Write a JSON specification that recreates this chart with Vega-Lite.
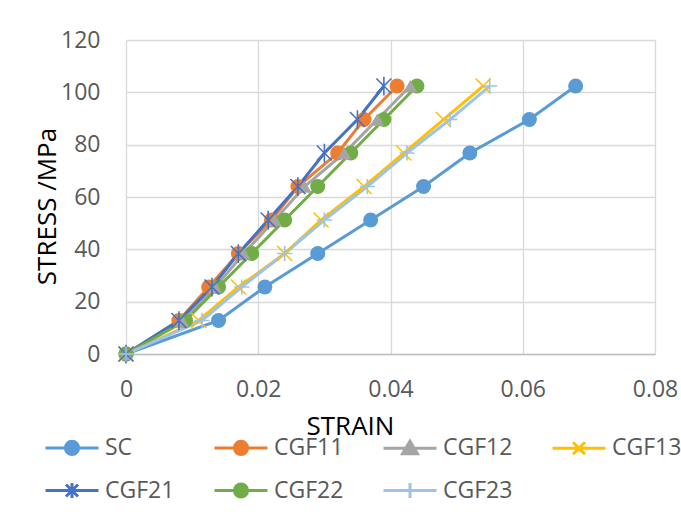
{
  "$schema": "https://vega.github.io/schema/vega-lite/v6.json",
  "width": 529,
  "height": 314,
  "autosize": {"type": "none"},
  "padding": {"left": 126, "top": 40, "right": 26, "bottom": 165},
  "background": "white",
  "config": {
    "font": "Open Sans",
    "view": {"stroke": null},
    "axis": {
      "labelFont": "Open Sans",
      "labelFontSize": 23,
      "labelColor": "#595959",
      "titleFont": "Open Sans",
      "titleFontSize": 26,
      "titleFontWeight": "normal",
      "titleColor": "#000000",
      "gridColor": "#d9d9d9",
      "gridWidth": 1.3,
      "ticks": false,
      "tickSize": 0
    },
    "legend": {
      "labelFont": "Open Sans",
      "labelFontSize": 23,
      "labelColor": "#595959",
      "labelOffset": 18,
      "labelLimit": 200,
      "symbolSize": 1600,
      "symbolStrokeWidth": 3,
      "symbolOpacity": 1,
      "padding": 0
    }
  },
  "data": {
    "values": [
      {"series": "SC", "strain": 0, "stress": 0},
      {"series": "SC", "strain": 0.014, "stress": 12.8},
      {"series": "SC", "strain": 0.021, "stress": 25.6},
      {"series": "SC", "strain": 0.029, "stress": 38.4},
      {"series": "SC", "strain": 0.037, "stress": 51.2},
      {"series": "SC", "strain": 0.045, "stress": 64},
      {"series": "SC", "strain": 0.052, "stress": 76.8},
      {"series": "SC", "strain": 0.061, "stress": 89.6},
      {"series": "SC", "strain": 0.068, "stress": 102.4},
      {"series": "CGF11", "strain": 0, "stress": 0},
      {"series": "CGF11", "strain": 0.008, "stress": 12.8},
      {"series": "CGF11", "strain": 0.0125, "stress": 25.6},
      {"series": "CGF11", "strain": 0.017, "stress": 38.4},
      {"series": "CGF11", "strain": 0.022, "stress": 51.2},
      {"series": "CGF11", "strain": 0.026, "stress": 64},
      {"series": "CGF11", "strain": 0.032, "stress": 76.8},
      {"series": "CGF11", "strain": 0.036, "stress": 89.6},
      {"series": "CGF11", "strain": 0.041, "stress": 102.4},
      {"series": "CGF12", "strain": 0, "stress": 0},
      {"series": "CGF12", "strain": 0.0085, "stress": 12.8},
      {"series": "CGF12", "strain": 0.0135, "stress": 25.6},
      {"series": "CGF12", "strain": 0.0178, "stress": 38.4},
      {"series": "CGF12", "strain": 0.0225, "stress": 51.2},
      {"series": "CGF12", "strain": 0.027, "stress": 64},
      {"series": "CGF12", "strain": 0.033, "stress": 76.8},
      {"series": "CGF12", "strain": 0.038, "stress": 89.6},
      {"series": "CGF12", "strain": 0.043, "stress": 102.4},
      {"series": "CGF13", "strain": 0, "stress": 0},
      {"series": "CGF13", "strain": 0.011, "stress": 12.8},
      {"series": "CGF13", "strain": 0.017, "stress": 25.6},
      {"series": "CGF13", "strain": 0.024, "stress": 38.4},
      {"series": "CGF13", "strain": 0.0295, "stress": 51.2},
      {"series": "CGF13", "strain": 0.036, "stress": 64},
      {"series": "CGF13", "strain": 0.042, "stress": 76.8},
      {"series": "CGF13", "strain": 0.048, "stress": 89.6},
      {"series": "CGF13", "strain": 0.054, "stress": 102.4},
      {"series": "CGF21", "strain": 0, "stress": 0},
      {"series": "CGF21", "strain": 0.008, "stress": 12.8},
      {"series": "CGF21", "strain": 0.013, "stress": 25.6},
      {"series": "CGF21", "strain": 0.017, "stress": 38.4},
      {"series": "CGF21", "strain": 0.0215, "stress": 51.2},
      {"series": "CGF21", "strain": 0.026, "stress": 64},
      {"series": "CGF21", "strain": 0.030, "stress": 76.8},
      {"series": "CGF21", "strain": 0.035, "stress": 89.6},
      {"series": "CGF21", "strain": 0.039, "stress": 102.4},
      {"series": "CGF22", "strain": 0, "stress": 0},
      {"series": "CGF22", "strain": 0.009, "stress": 12.8},
      {"series": "CGF22", "strain": 0.014, "stress": 25.6},
      {"series": "CGF22", "strain": 0.019, "stress": 38.4},
      {"series": "CGF22", "strain": 0.024, "stress": 51.2},
      {"series": "CGF22", "strain": 0.029, "stress": 64},
      {"series": "CGF22", "strain": 0.034, "stress": 76.8},
      {"series": "CGF22", "strain": 0.039, "stress": 89.6},
      {"series": "CGF22", "strain": 0.044, "stress": 102.4},
      {"series": "CGF23", "strain": 0, "stress": 0},
      {"series": "CGF23", "strain": 0.0115, "stress": 12.8},
      {"series": "CGF23", "strain": 0.0175, "stress": 25.6},
      {"series": "CGF23", "strain": 0.024, "stress": 38.4},
      {"series": "CGF23", "strain": 0.030, "stress": 51.2},
      {"series": "CGF23", "strain": 0.0365, "stress": 64},
      {"series": "CGF23", "strain": 0.0425, "stress": 76.8},
      {"series": "CGF23", "strain": 0.049, "stress": 89.6},
      {"series": "CGF23", "strain": 0.055, "stress": 102.4}
    ]
  },
  "encoding": {
    "x": {
      "field": "strain",
      "type": "quantitative",
      "scale": {"domain": [0, 0.08], "nice": false, "zero": false},
      "axis": {
        "values": [0, 0.02, 0.04, 0.06, 0.08],
        "format": "~g",
        "title": "STRAIN",
        "labelPadding": 24,
        "labelFlush": false,
        "domain": true,
        "domainColor": "#bfbfbf",
        "domainWidth": 1.3,
        "titleX": 224,
        "titleY": 80,
        "titleAnchor": null,
        "titleAlign": "center",
        "titleBaseline": "alphabetic"
      }
    },
    "y": {
      "field": "stress",
      "type": "quantitative",
      "scale": {"domain": [0, 120], "nice": false},
      "axis": {
        "values": [0, 20, 40, 60, 80, 100, 120],
        "title": "STRESS /MPa",
        "titleFontSize": 26,
        "labelPadding": 26,
        "domain": false,
        "titleX": -79,
        "titleY": 166,
        "titleAngle": 270,
        "titleAlign": "center",
        "titleBaseline": "middle"
      }
    },
    "color": {
      "field": "series",
      "type": "nominal",
      "scale": {
        "domain": ["SC", "CGF11", "CGF12", "CGF13", "CGF21", "CGF22", "CGF23"],
        "range": ["#5B9BD5", "#ED7D31", "#A5A5A5", "#FFC000", "#4472C4", "#70AD47", "#9DC3E6"]
      },
      "legend": {
        "title": null,
        "orient": "none",
        "legendX": -82,
        "legendY": 386,
        "direction": "horizontal",
        "columns": 4,
        "columnPadding": 33,
        "rowPadding": 8
      }
    }
  },
  "layer": [
    {
      "transform": [{"filter": "datum.stress < 0"}],
      "mark": {"type": "point", "filled": true, "size": 1600, "strokeWidth": 3},
      "encoding": {
        "stroke": {
          "field": "series",
          "type": "nominal",
          "scale": {
            "domain": ["SC", "CGF11", "CGF12", "CGF13", "CGF21", "CGF22", "CGF23"],
            "range": ["#5B9BD5", "#ED7D31", "#A5A5A5", "#FFC000", "#4472C4", "#70AD47", "#9DC3E6"]
          },
          "legend": {
            "title": null,
            "orient": "none",
            "legendX": -82,
            "legendY": 386,
            "direction": "horizontal",
            "columns": 4,
            "columnPadding": 33,
            "rowPadding": 8
          }
        },
        "shape": {
          "field": "series",
          "type": "nominal",
          "scale": {
            "domain": ["SC", "CGF11", "CGF12", "CGF13", "CGF21", "CGF22", "CGF23"],
            "range": [
              "M-1,0H1.65M-0.005,0A0.33,0.33 0 1,0 0.655,0A0.33,0.33 0 1,0 -0.005,0Z",
              "M-1,0H1.65M-0.005,0A0.33,0.33 0 1,0 0.655,0A0.33,0.33 0 1,0 -0.005,0Z",
              "M-1,0H1.65M0.325,-0.35L0.7,0.28L-0.05,0.28Z",
              "M-1,0H1.65M0.025,-0.3L0.625,0.3M0.025,0.3L0.625,-0.3",
              "M-1,0H1.65M0.025,-0.3L0.625,0.3M0.025,0.3L0.625,-0.3M0.325,-0.38V0.38",
              "M-1,0H1.65M-0.005,0A0.33,0.33 0 1,0 0.655,0A0.33,0.33 0 1,0 -0.005,0Z",
              "M-1,0H1.65M0.325,-0.38V0.38"
            ]
          },
          "legend": {
            "title": null,
            "orient": "none",
            "legendX": -82,
            "legendY": 386,
            "direction": "horizontal",
            "columns": 4,
            "columnPadding": 33,
            "rowPadding": 8
          }
        }
      }
    },
    {
      "mark": {"type": "line", "strokeWidth": 3},
      "encoding": {
        "order": {"field": "stress", "type": "quantitative"}
      }
    },
    {
      "transform": [{"filter": {"field": "series", "oneOf": ["SC", "CGF11", "CGF22"]}}],
      "mark": {"type": "point", "filled": true, "shape": "circle", "size": 225, "opacity": 1}
    },
    {
      "transform": [{"filter": {"field": "series", "equal": "CGF12"}}],
      "mark": {"type": "point", "filled": true, "shape": "triangle-up", "size": 200, "opacity": 1}
    },
    {
      "transform": [{"filter": {"field": "series", "equal": "CGF13"}}],
      "mark": {"type": "point", "filled": false, "shape": "M-1,-1L1,1M-1,1L1,-1", "size": 225, "strokeWidth": 1.6, "opacity": 1}
    },
    {
      "transform": [{"filter": {"field": "series", "equal": "CGF21"}}],
      "mark": {"type": "point", "filled": false, "shape": "M-1,-1L1,1M-1,1L1,-1M0,-1.25V1.25", "size": 225, "strokeWidth": 1.6, "opacity": 1}
    },
    {
      "transform": [{"filter": {"field": "series", "equal": "CGF23"}}],
      "mark": {"type": "point", "filled": false, "shape": "M-1,0H1M0,-1V1", "size": 225, "strokeWidth": 1.6, "opacity": 1}
    }
  ]
}
